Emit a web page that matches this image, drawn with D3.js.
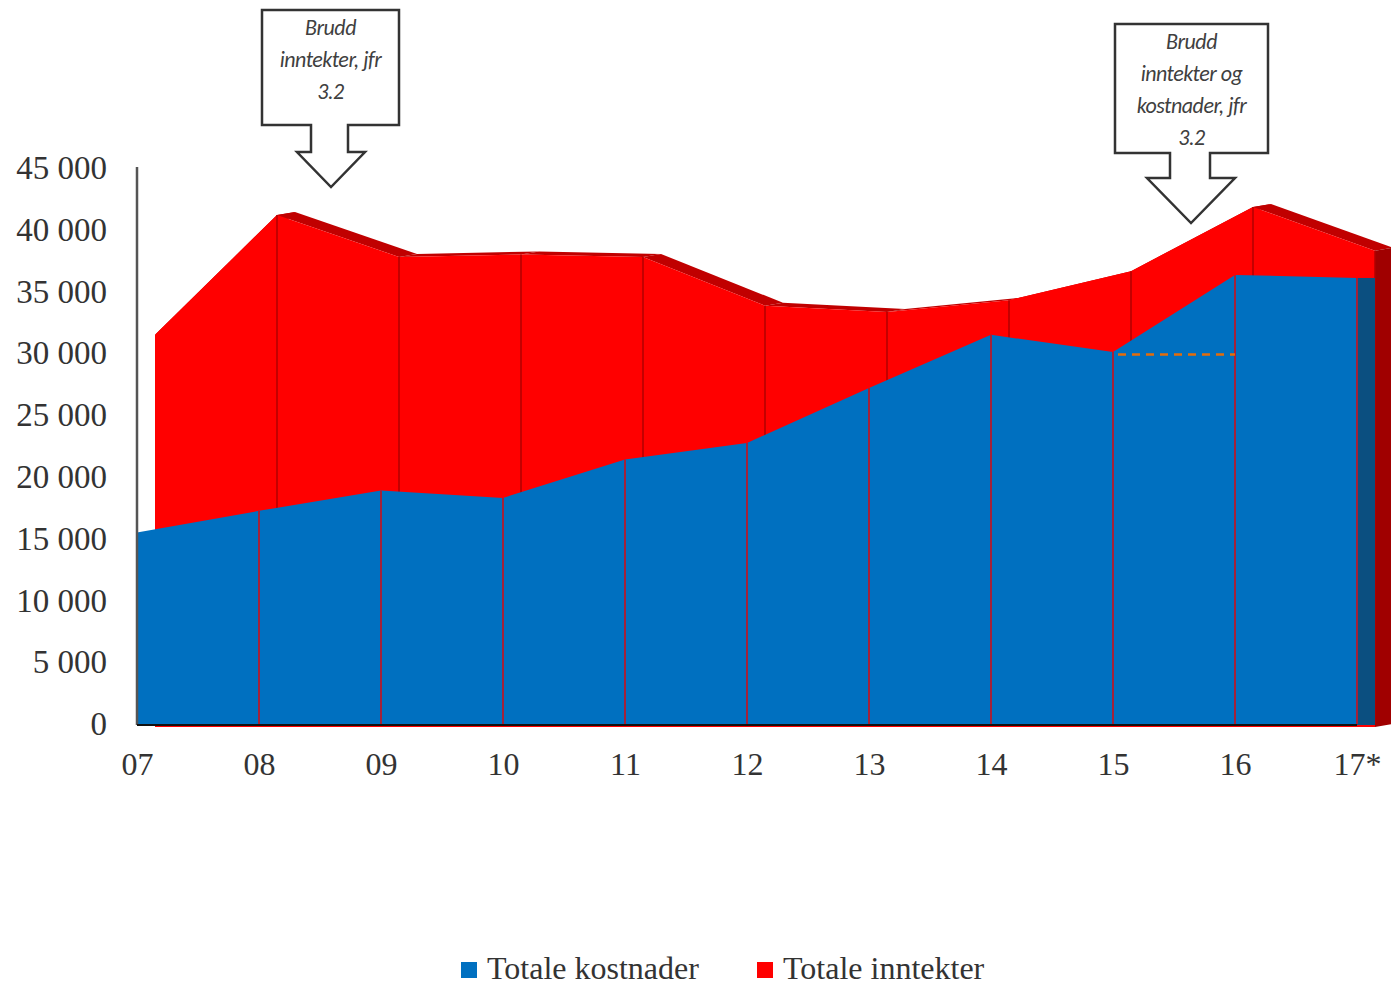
<!DOCTYPE html>
<html>
<head>
<meta charset="utf-8">
<script src="https://cdn.jsdelivr.net/npm/d3@7"></script>
<style>
  body { margin: 0; background: #fff; }
  svg { display: block; }
  .tick text { font-family: "Liberation Serif", "Times New Roman", serif; }
</style>
</head>
<body>
<div id="chart"></div>
<script>
"use strict";

// --- data ---
var years = ["07", "08", "09", "10", "11", "12", "13", "14", "15", "16", "17*"];
var kostnader = [15500, 17250, 18900, 18300, 21400, 22750, 27200, 31500, 30100, 36350, 36100];
var inntekter = [31500, 41200, 37800, 38000, 37800, 33850, 33350, 34300, 36650, 41850, 38300];
var yTicks = [0, 5000, 10000, 15000, 20000, 25000, 30000, 35000, 40000, 45000];
var bruddNivaa = 29900; // dashed line between 15 and 16
var notes = [
	{ at: "08", lines: ["Brudd", "inntekter, jfr", "3.2"] },
	{ at: "16", lines: ["Brudd", "inntekter og", "kostnader, jfr", "3.2"] }
];

var W = 1391, H = 987;
var depth = 18, rise = 3; // 3d offset of one series row

var svg = d3.select("#chart").append("svg")
	.attr("width", W).attr("height", H);

var x = d3.scalePoint().domain(years).range([137, 1357]);
var y = d3.scaleLinear().domain([0, 45000]).range([724, 168]);
var base = y(0);

var blue = "#0070C0", red = "#FF0000";

// red series sits one row behind the blue one
var xr = function (d) { return x(d) + depth; };

// top faces of the red series (only the falling bits show)
var redTop = svg.append("g");
for (var i = 0; i < years.length - 1; i++) {
	var a = years[i], b = years[i + 1];
	redTop.append("path")
		.attr("d", "M" + xr(a) + "," + y(inntekter[i]) +
			"L" + xr(b) + "," + y(inntekter[i + 1]) +
			"L" + (xr(b) + depth) + "," + (y(inntekter[i + 1]) - rise) +
			"L" + (xr(a) + depth) + "," + (y(inntekter[i]) - rise) + "Z")
		.attr("fill", "#C00000");
}

// right side of red series
var last = years.length - 1;
svg.append("path")
	.attr("d", "M" + xr(years[last]) + "," + y(inntekter[last]) +
		"L" + (xr(years[last]) + depth) + "," + (y(inntekter[last]) - rise) +
		"L" + (xr(years[last]) + depth) + "," + (base + 3 - rise) +
		"L" + xr(years[last]) + "," + (base + 3) + "Z")
	.attr("fill", "#A00000");

// red front face
var redArea = d3.area()
	.x(function (d, i) { return xr(years[i]); })
	.y0(base + 3)
	.y1(function (d) { return y(d); });

svg.append("path")
	.datum(inntekter)
	.attr("d", redArea)
	.attr("fill", red);

svg.append("g").selectAll("line")
	.data(inntekter.slice(1))
	.enter().append("line")
	.attr("x1", function (d, i) { return xr(years[i + 1]); })
	.attr("x2", function (d, i) { return xr(years[i + 1]); })
	.attr("y1", function (d) { return y(d); })
	.attr("y2", base)
	.attr("stroke", "#B00000")
	.attr("stroke-width", 1.5);

// blue right side
svg.append("rect")
	.attr("x", x(years[last]))
	.attr("y", y(kostnader[last]))
	.attr("width", depth)
	.attr("height", base - y(kostnader[last]) + 1)
	.attr("fill", "#0B4F80");

// blue front face
var blueArea = d3.area()
	.x(function (d, i) { return x(years[i]); })
	.y0(base)
	.y1(function (d) { return y(d); });

svg.append("path")
	.datum(kostnader)
	.attr("d", blueArea)
	.attr("fill", blue);

svg.append("g").selectAll("line")
	.data(kostnader.slice(1))
	.enter().append("line")
	.attr("x1", function (d, i) { return x(years[i + 1]); })
	.attr("x2", function (d, i) { return x(years[i + 1]); })
	.attr("y1", function (d) { return y(d); })
	.attr("y2", base)
	.attr("stroke", "#A3213A")
	.attr("stroke-width", 2);

// dashed break level
svg.append("line")
	.attr("x1", x("15") + 5).attr("x2", x("16"))
	.attr("y1", y(bruddNivaa)).attr("y2", y(bruddNivaa))
	.attr("stroke", "#E46C0A")
	.attr("stroke-width", 2.5)
	.attr("stroke-dasharray", "8,6");

// axes
var fmt = function (d) { return d3.format(",")(d).replace(/,/g, " "); };

var yAxis = svg.append("g")
	.attr("transform", "translate(137,0)")
	.call(d3.axisLeft(y).tickValues(yTicks).tickFormat(fmt).tickSize(0).tickPadding(30));
yAxis.select(".domain").remove();
yAxis.selectAll("text").attr("font-size", 33).attr("fill", "#333");

svg.append("line")
	.attr("x1", 137).attr("x2", 137)
	.attr("y1", y(45000) - 1).attr("y2", base + 1)
	.attr("stroke", "#555").attr("stroke-width", 2.5);

var xAxis = svg.append("g")
	.attr("transform", "translate(0," + base + ")")
	.call(d3.axisBottom(x).tickSize(0).tickPadding(28));
xAxis.select(".domain").remove();
xAxis.selectAll("text").attr("font-size", 32).attr("fill", "#333");

svg.append("line")
	.attr("x1", 137).attr("x2", x(years[last]))
	.attr("y1", base + 1).attr("y2", base + 1)
	.attr("stroke", "#111").attr("stroke-width", 2);

// callouts with down arrow
var boxes = [
	{ x0: 262, x1: 399, y0: 10, y1: 125, s0: 311, s1: 348, sy: 152, h0: 297, h1: 365, tip: 187 },
	{ x0: 1115, x1: 1268, y0: 24, y1: 153, s0: 1170, s1: 1210, sy: 178, h0: 1147, h1: 1235, tip: 223 }
];

notes.forEach(function (n, k) {
	var b = boxes[k];
	var tx = (b.h0 + b.h1) / 2;
	var g = svg.append("g");
	g.append("path")
		.attr("d", "M" + b.x0 + "," + b.y0 + "H" + b.x1 + "V" + b.y1 + "H" + b.s1 +
			"V" + b.sy + "H" + b.h1 + "L" + tx + "," + b.tip + "L" + b.h0 + "," + b.sy +
			"H" + b.s0 + "V" + b.y1 + "H" + b.x0 + "Z")
		.attr("fill", "#fff")
		.attr("stroke", "#333")
		.attr("stroke-width", 2.5);
	g.selectAll("text")
		.data(n.lines)
		.enter().append("text")
		.attr("x", (b.x0 + b.x1) / 2)
		.attr("y", function (d, i) { return b.y0 + 25 + i * 32; })
		.attr("text-anchor", "middle")
		.attr("font-family", "Carlito, Calibri, 'Open Sans', sans-serif")
		.attr("font-style", "italic")
		.attr("font-size", 22)
		.attr("letter-spacing", -0.5)
		.attr("fill", "#404040")
		.text(function (d) { return d; });
});

// legend
var legend = [
	{ name: "Totale kostnader", color: blue, x: 461 },
	{ name: "Totale inntekter", color: red, x: 757 }
];
var lg = svg.append("g").selectAll("g")
	.data(legend)
	.enter().append("g");
lg.append("rect")
	.attr("x", function (d) { return d.x; })
	.attr("y", 962)
	.attr("width", 16).attr("height", 16)
	.attr("fill", function (d) { return d.color; });
lg.append("text")
	.attr("x", function (d) { return d.x + 26; })
	.attr("y", 979)
	.attr("font-family", "'Liberation Serif', 'Times New Roman', serif")
	.attr("font-size", 32)
	.attr("fill", "#333")
	.text(function (d) { return d.name; });
</script>
</body>
</html>
